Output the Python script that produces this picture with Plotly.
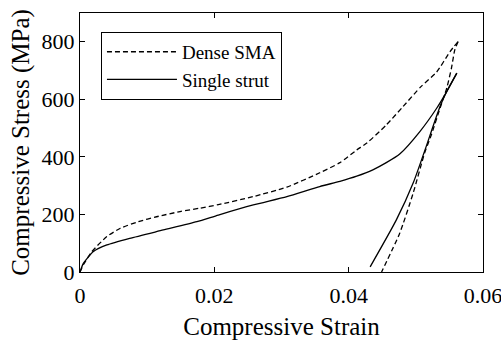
import plotly.graph_objects as go

# Dense SMA: loading branch
dense_load_strain = [0, 0.0005, 0.00174, 0.004, 0.006, 0.0087, 0.0114, 0.0149, 0.0179, 0.0206,
                     0.0258, 0.0308, 0.0357, 0.0387, 0.0412, 0.0427, 0.0456, 0.0481, 0.0508,
                     0.0531, 0.0551, 0.0563]
dense_load_stress = [0, 25, 70, 123, 152, 175, 192, 210, 222, 234,
                     262, 295, 345, 380, 424, 448, 511, 575, 645,
                     695, 766, 801]
# Dense SMA: unloading branch
dense_unload_strain = [0.0563, 0.0558, 0.0553, 0.0546, 0.0536, 0.0523, 0.0513, 0.0496, 0.0476, 0.0449]
dense_unload_stress = [801, 772, 708, 639, 569, 476, 413, 274, 135, 0]

# Single strut: loading branch
strut_load_strain = [0, 0.0005, 0.002, 0.004, 0.0074, 0.0124, 0.0174, 0.0206, 0.0258, 0.0308,
                     0.0357, 0.0387, 0.0412, 0.0436, 0.0456, 0.0476, 0.0506, 0.0531, 0.0546, 0.0561]
strut_load_stress = [0, 30, 71, 94, 117, 146, 175, 198, 233, 262,
                     297, 315, 333, 355, 380, 410, 488, 569, 627, 691]
# Single strut: unloading branch
strut_unload_strain = [0.0561, 0.0546, 0.0536, 0.0523, 0.0516, 0.0496, 0.0471, 0.0432]
strut_unload_stress = [691, 627, 575, 488, 440, 309, 181, 18]

x_ticks = [0, 0.02, 0.04, 0.06]
x_tick_labels = ["0", "0.02", "0.04", "0.06"]
y_ticks = [0, 200, 400, 600, 800]

FONT = "Liberation Serif"

dense_line = dict(color="black", width=1.3, dash="5px,3px")
strut_line = dict(color="black", width=1.3)

fig = go.Figure()
fig.add_trace(go.Scatter(x=dense_load_strain, y=dense_load_stress, mode="lines", name="Dense SMA",
                         line=dict(shape="spline", smoothing=0.6, **dense_line)))
fig.add_trace(go.Scatter(x=strut_load_strain, y=strut_load_stress, mode="lines", name="Single strut",
                         line=dict(shape="spline", smoothing=0.6, **strut_line)))
fig.add_trace(go.Scatter(x=dense_unload_strain, y=dense_unload_stress, mode="lines", name="Dense SMA",
                         showlegend=False,
                         line=dict(shape="spline", smoothing=0.6, **dense_line)))
fig.add_trace(go.Scatter(x=strut_unload_strain, y=strut_unload_stress, mode="lines", name="Single strut",
                         showlegend=False,
                         line=dict(shape="spline", smoothing=0.6, **strut_line)))

axis_common = dict(showline=True, linecolor="black", linewidth=1, mirror="ticks",
                   ticks="inside", ticklen=5, tickcolor="black", showgrid=False,
                   zeroline=False, ticklabeloverflow="allow", automargin=False,
                   tickfont=dict(family=FONT, size=22, color="black"))

fig.update_xaxes(range=[0, 0.06], tickvals=x_ticks, ticktext=x_tick_labels,
                 ticklabelstandoff=4,
                 title=dict(text="Compressive Strain", font=dict(family=FONT, size=25, color="black"),
                            standoff=13),
                 **axis_common)
fig.update_yaxes(range=[0, 900], tickvals=y_ticks,
                 title=dict(text="Compressive Stress (MPa)", font=dict(family=FONT, size=25, color="black"),
                            standoff=4),
                 **axis_common)

fig.update_layout(
    width=501, height=340,
    margin=dict(l=80, r=18, t=13, b=68),
    plot_bgcolor="white", paper_bgcolor="white",
    showlegend=True,
    legend=dict(x=0.052, y=0.927, xanchor="left", yanchor="top",
                bgcolor="white", bordercolor="black", borderwidth=1,
                font=dict(family=FONT, size=19, color="black"),
                itemwidth=70),
)

fig.write_html("out.html")
